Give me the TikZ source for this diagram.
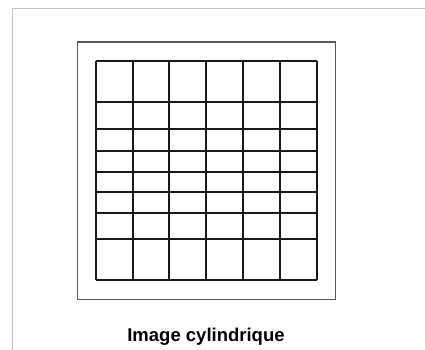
\documentclass[tikz,border=0pt]{standalone}
\usepackage{fontspec}
\setmainfont{Liberation Sans}
\begin{document}
\begin{tikzpicture}[x=1pt,y=-1pt,
  framestyle/.style={draw=black!25,line width=1.2pt},
  outerbox/.style={draw=black!65,line width=1.1pt},
  gridline/.style={draw=black!90,line width=2pt},
  captionstyle/.style={font=\bfseries\fontsize{18.5}{22}\selectfont,anchor=base,inner sep=0pt}]
\useasboundingbox (0,0) rectangle (425,350);
% page frame
\draw[framestyle] (425,8.5) -- (12.5,8.5) -- (12.5,350);
% outer rectangle
\draw[outerbox] (77.3,42) rectangle (335.7,299.3);
% grid
\foreach \y in {61,102.3,129,151.3,171.5,191.5,213.3,239,280}
  \draw[gridline] (95.7,\y) -- (316.7,\y);
\foreach \i in {0,...,6}
  \draw[gridline] ({95.7+\i*36.833},61) -- ({95.7+\i*36.833},280);
\node[captionstyle] (caption) at (206,341.5) {Image cylindrique};
\end{tikzpicture}
\end{document}
